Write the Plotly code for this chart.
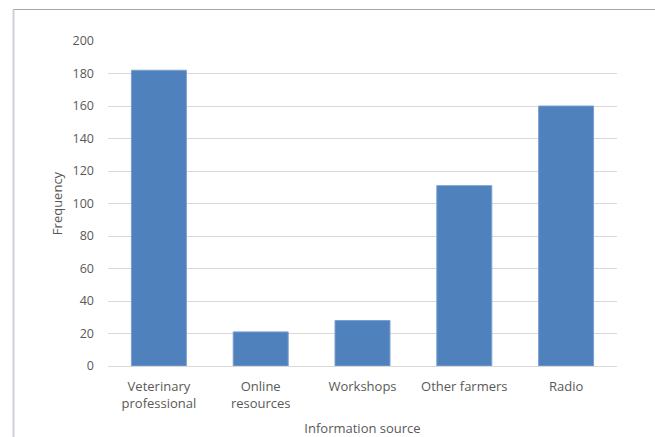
import plotly.graph_objects as go

categories = ["Veterinary<br>professional", "Online<br>resources", "Workshops", "Other farmers", "Radio"]
frequency = [182, 21, 28, 111, 160]
y_ticks = [0, 20, 40, 60, 80, 100, 120, 140, 160, 180, 200]

W, H = 655, 437
L, R, T, B = 108, 38, 41, 71
pw, ph = W - L - R, H - T - B

def px(x):
    return (x - L) / pw

def py(y):
    return (H - B - y) / ph

fig = go.Figure(go.Bar(
    x=categories, y=frequency,
    marker=dict(color="#4F81BD", line=dict(color="#7aa0d0", width=1)),
))

font = "Open Sans, Liberation Sans, sans-serif"
fig.update_layout(
    width=W, height=H,
    margin=dict(l=L, r=R, t=T, b=B, pad=0, autoexpand=False),
    paper_bgcolor="white", plot_bgcolor="white",
    bargap=0.46, showlegend=False,
    font=dict(family=font, size=12, color="#595959"),
    xaxis=dict(
        automargin=False,
        showgrid=False, ticks="", showline=True, linecolor="#d9d9d9", linewidth=1,
        tickfont=dict(size=13, color="#595959"), ticklabelstandoff=8,
        title=dict(text="Information source", font=dict(size=13, color="#595959"), standoff=14),
    ),
    yaxis=dict(
        automargin=False,
        range=[0, 200], tickvals=y_ticks, showgrid=True, gridcolor="#d9d9d9", gridwidth=1,
        zeroline=False, showline=False, ticks="", ticklabelstandoff=13,
        tickfont=dict(size=12.5, color="#595959"),
        title=dict(text="Frequency", font=dict(size=13, color="#595959"), standoff=6),
    ),
    shapes=[
        dict(type="line", xref="paper", yref="paper", x0=px(13), x1=px(655), y0=py(9.5), y1=py(9.5),
             line=dict(color="#a6a6a6", width=1.2)),
        dict(type="line", xref="paper", yref="paper", x0=px(13.5), x1=px(13.5), y0=py(9.5), y1=py(437),
             line=dict(color="#d0d0d8", width=2)),
    ],
)

fig.write_html("out.html")
